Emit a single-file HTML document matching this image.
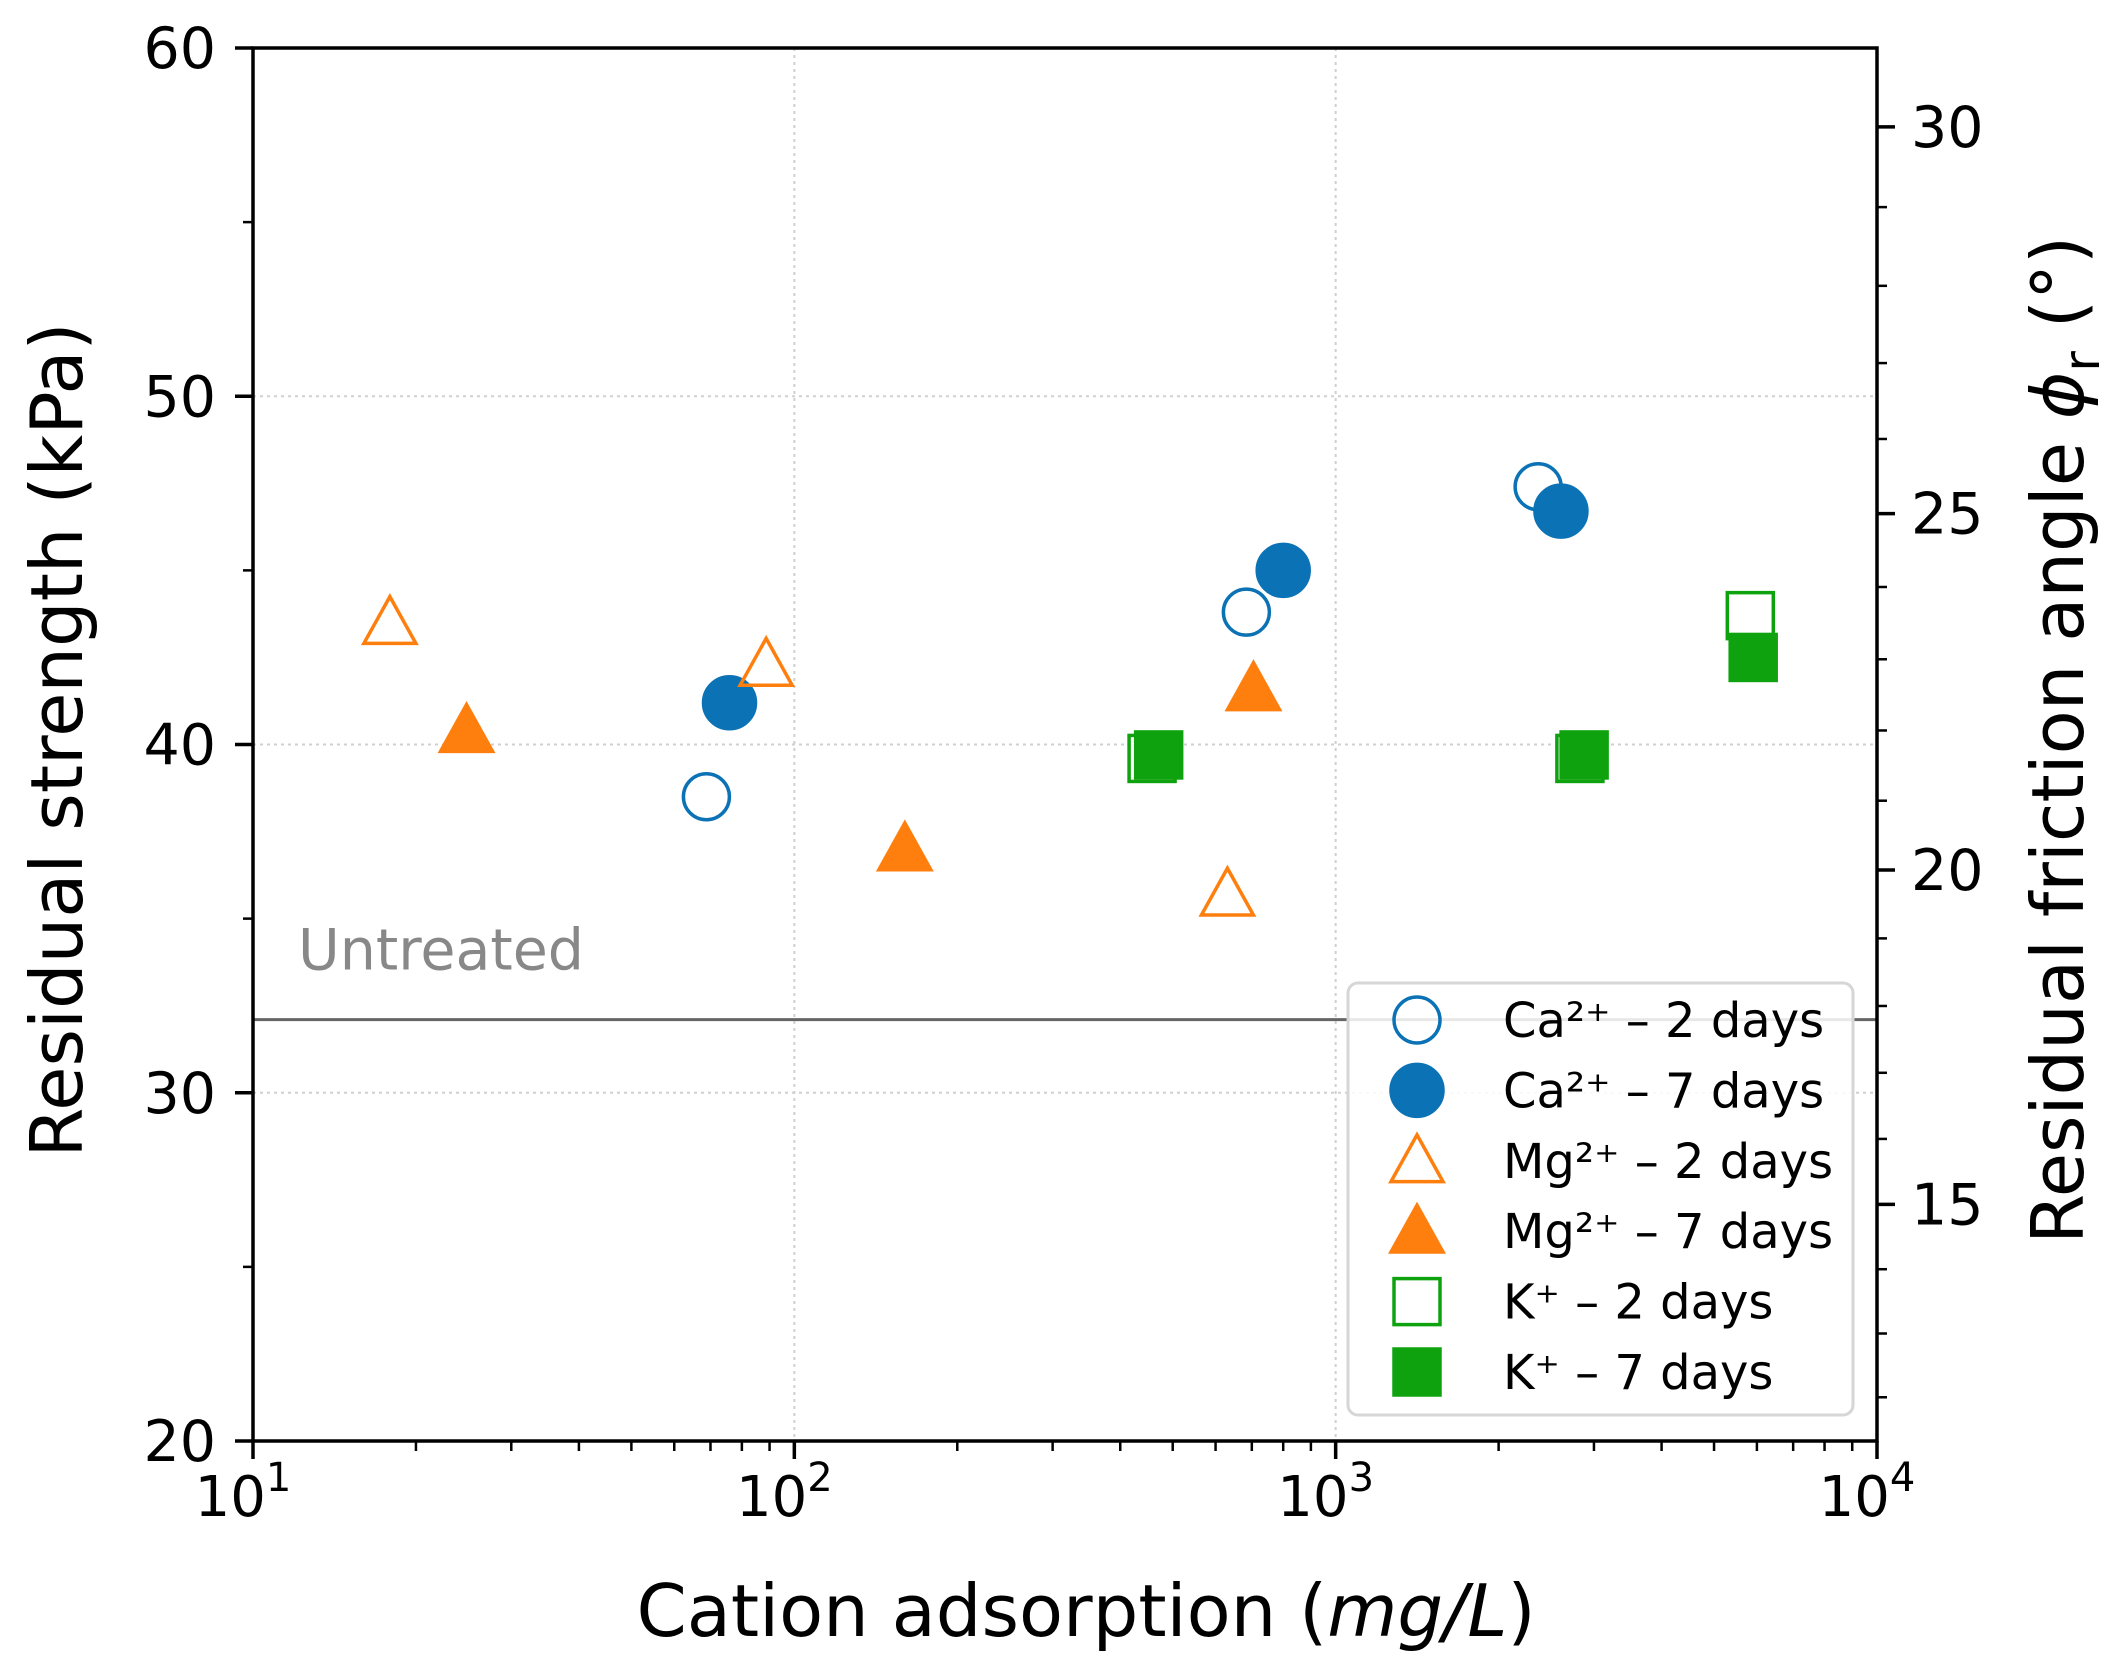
<!DOCTYPE html>
<html><head><meta charset="utf-8"><style>
html,body{margin:0;padding:0;background:#fff;}
svg{display:block;font-family:"DejaVu Sans","Liberation Sans",sans-serif;}
</style></head><body>
<svg id="chart" width="2117" height="1669" viewBox="0 0 2117 1669">
<g id="grid"></g>
<g id="axes"></g>
<g id="marks"></g>
<g id="legend"></g>
</svg>
<script>
const xTicks = [10, 100, 1000, 10000];
const xTickExp = ["1", "2", "3", "4"];
const yTicks = [20, 30, 40, 50, 60];
const yMinor = [25, 35, 45, 55];
const phiTicks = [15, 20, 25, 30];
const phiMinor = [12,13,14,16,17,18,19,21,22,23,24,26,27,28,29];
const untreated = 32.1;
const seriesNames = ["Ca²⁺ – 2 days","Ca²⁺ – 7 days","Mg²⁺ – 2 days","Mg²⁺ – 7 days","K⁺ – 2 days","K⁺ – 7 days"];
const ca2x = [68.8, 684, 2366];   const ca2y = [38.5, 43.8, 47.4];
const ca7x = [75.9, 800, 2607];   const ca7y = [41.2, 45.0, 46.7];
const mg2x = [17.9, 88.7, 631];   const mg2y = [43.5, 42.3, 35.7];
const mg7x = [24.8, 160, 705];    const mg7y = [40.4, 37.0, 41.6];
const k2x = [458, 2826, 5834];    const k2y = [39.6, 39.6, 43.7];
const k7x = [471, 2877, 5906];    const k7y = [39.7, 39.7, 42.5];

const NS="http://www.w3.org/2000/svg";
const L=253,R=1877,T=48,B=1441;
const X=v=>L+(Math.log10(v)-1)/3*(R-L);
const Y=v=>B-(v-20)/40*(B-T);
const PHI=d=>Y(100*Math.tan(d*Math.PI/180));
function mk(tag,attrs,parent,text){const e=document.createElementNS(NS,tag);for(const k in attrs)e.setAttribute(k,attrs[k]);if(text!==undefined)e.textContent=text;parent.appendChild(e);return e;}
const grid=document.getElementById('grid'),axes=document.getElementById('axes'),marks=document.getElementById('marks'),legend=document.getElementById('legend');
[100,1000].forEach(v=>{const g=mk('line',{x1:X(v),x2:X(v),y1:T,y2:B,stroke:'#d0d0d0','stroke-width':2,'stroke-dasharray':'3,4'},grid);

});
[30,40,50].forEach(v=>{const g=mk('line',{x1:L,x2:R,y1:Y(v),y2:Y(v),stroke:'#d0d0d0','stroke-width':2,'stroke-dasharray':'3,4'},grid);

});
const ul=mk('line',{x1:L,x2:R,y1:Y(untreated),y2:Y(untreated),stroke:'#666','stroke-width':3},axes);


const ut=mk('text',{x:298,y:Y(untreated)-50,'font-size':57,fill:'#888'},axes,'Untreated');


const fr=mk('rect',{x:L,y:T,width:R-L,height:B-T,fill:'none',stroke:'#000','stroke-width':3.5},axes);


xTicks.forEach((v,i)=>{mk('line',{x1:X(v),x2:X(v),y1:B,y2:B+18,stroke:'#000','stroke-width':3.5},axes);
const t=mk('text',{x:X(v)-10,y:1516,'font-size':56,'text-anchor':'middle'},axes,'10');


mk('tspan',{dy:-25,'font-size':40},t,xTickExp[i]);});
for(let d=1;d<4;d++)for(let m=2;m<10;m++){const v=m*Math.pow(10,d);mk('line',{x1:X(v),x2:X(v),y1:B,y2:B+10,stroke:'#000','stroke-width':2.5},axes);}
yTicks.forEach(v=>{mk('line',{x1:L-18,x2:L,y1:Y(v),y2:Y(v),stroke:'#000','stroke-width':3.5},axes);
const t=mk('text',{x:216,y:Y(v)+20,'font-size':57,'text-anchor':'end'},axes,String(v));

});
yMinor.forEach(v=>mk('line',{x1:L-10,x2:L,y1:Y(v),y2:Y(v),stroke:'#000','stroke-width':2.5},axes));
phiTicks.forEach(v=>{mk('line',{x1:R,x2:R+18,y1:PHI(v),y2:PHI(v),stroke:'#000','stroke-width':3.5},axes);
const t=mk('text',{x:1911,y:PHI(v)+20,'font-size':57},axes,String(v));

});
phiMinor.forEach(v=>mk('line',{x1:R,x2:R+10,y1:PHI(v),y2:PHI(v),stroke:'#000','stroke-width':2.5},axes));
const xl=mk('text',{x:1086,y:1636,'font-size':72,'text-anchor':'middle'},axes,'Cation adsorption (');
mk('tspan',{'font-style':'italic'},xl,'mg/L');mk('tspan',{},xl,')');


const yl=mk('text',{x:0,y:0,'font-size':72,'text-anchor':'middle',transform:'translate(82,740) rotate(-90)'},axes,'Residual strength (kPa)');


const rl=mk('text',{x:0,y:0,'font-size':72,'text-anchor':'middle',transform:'translate(2083,740) rotate(-90)'},axes,'Residual friction angle ');
mk('tspan',{'font-style':'italic'},rl,'ϕ');mk('tspan',{'font-size':50,dy:16},rl,'r');mk('tspan',{dy:-16},rl,' (°)');


const BLUE='#0b72b5',ORANGE='#ff7f0e',GREEN='#0ea30e';
function marker(parent,shape,filled,color,cx,cy){
  const sw=3.5;const fill=filled?color:'none';let e;
  if(shape==='c')e=mk('circle',{cx,cy,r:filled?26:23,fill,stroke:color,'stroke-width':sw},parent);
  else if(shape==='t'){const h=26;e=mk('polygon',{points:`${cx},${cy-h} ${cx+h},${cy+h*0.8} ${cx-h},${cy+h*0.8}`,fill,stroke:color,'stroke-width':sw,'stroke-linejoin':'miter'},parent);}
  else e=mk('rect',{x:cx-23,y:cy-23,width:46,height:46,fill,stroke:color,'stroke-width':sw},parent);
  return e;}
const series=[[ca2x,ca2y,'c',false,BLUE,'ca-2-days'],[ca7x,ca7y,'c',true,BLUE,'ca-7-days'],[mg2x,mg2y,'t',false,ORANGE,'mg-2-days'],[mg7x,mg7y,'t',true,ORANGE,'mg-7-days'],[k2x,k2y,'s',false,GREEN,'k-2-days'],[k7x,k7y,'s',true,GREEN,'k-7-days']];
series.forEach(s=>{for(let i=0;i<s[0].length;i++){const e=marker(marks,s[2],s[3],s[4],X(s[0][i]),Y(s[1][i]));

}});
const lb=mk('rect',{x:1348,y:983,width:505,height:432,rx:10,fill:'#fff','fill-opacity':0.85,stroke:'#d6d6d6','stroke-width':3},legend);


series.forEach((s,i)=>{const cy=1020+i*70.4;
const m=marker(legend,s[2],s[3],s[4],1417,cy);


const t=mk('text',{x:1503,y:cy+17,'font-size':48},legend,seriesNames[i]);

});
</script>
</body></html>
